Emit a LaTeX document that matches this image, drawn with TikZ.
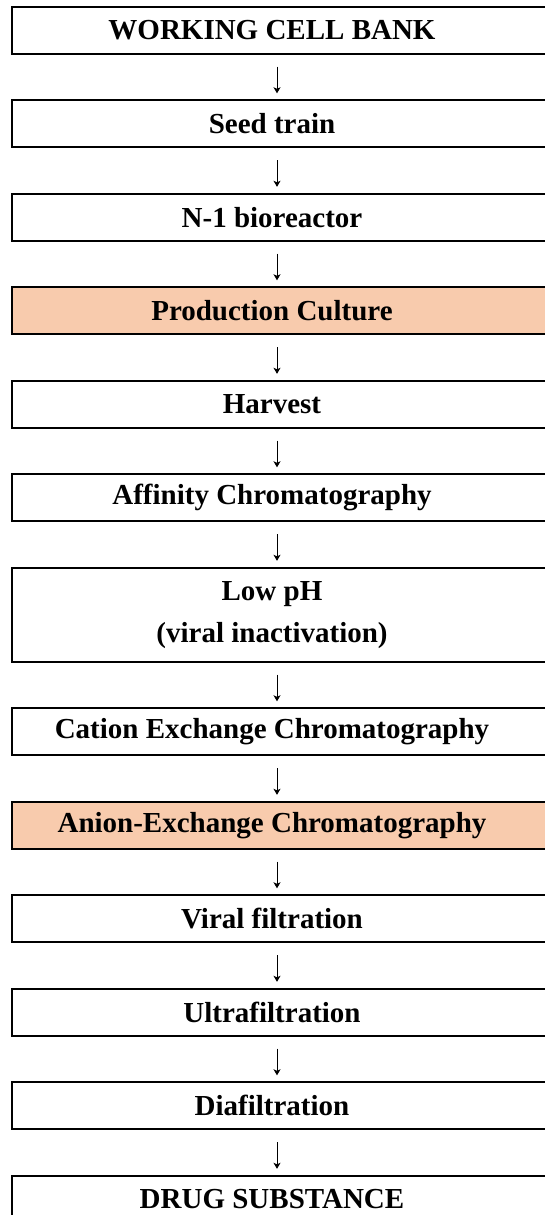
\documentclass[tikz,border=0pt]{standalone}
\usepackage{fontspec}
\setmainfont{Liberation Serif}
\usetikzlibrary{arrows.meta,backgrounds}
\definecolor{peach}{HTML}{F8CBAD}
\tikzset{
  stepbox/.style={minimum width=520pt, minimum height=46.5pt, inner sep=0pt,
    font=\fontsize{29}{42}\selectfont\bfseries, align=center, text=black},
  tallbox/.style={stepbox, minimum height=93.5pt},
  boxline/.style={line width=2.3pt, draw=black},
  flowarrow/.style={line width=1pt, -{Stealth[length=6pt,width=7pt,inset=1.5pt]},
    shorten <=13pt, shorten >=7pt}
}
\begin{document}
\begin{tikzpicture}[x=1pt,y=-1pt]
\useasboundingbox (0,0) rectangle (545,1215);
\node[stepbox] (wcb) at (272,30.25) {WORKING CELL BANK};
\node[stepbox] (seed) at (272,123.75) {Seed train};
\node[stepbox] (n1) at (272,217.25) {N-1 bioreactor};
\node[stepbox] (prod) at (272,310.75) {Production Culture};
\node[stepbox] (harv) at (272,404.25) {Harvest};
\node[stepbox] (aff) at (272,497.75) {Affinity Chromatography};
\node[tallbox] (lowph) at (272,614.75) {Low pH\\(viral inactivation)};
\node[stepbox] (cat) at (272,731.75) {Cation Exchange Chromatography};
\node[stepbox] (anion) at (272,825.25) {Anion-Exchange Chromatography};
\node[stepbox] (vir) at (272,918.75) {Viral filtration};
\node[stepbox] (ultra) at (272,1012.25) {Ultrafiltration};
\node[stepbox] (dia) at (272,1105.75) {Diafiltration};
\node[stepbox] (ds) at (272,1199.25) {DRUG SUBSTANCE};
\begin{scope}[on background layer]
  \foreach \n in {wcb,seed,n1,harv,aff,lowph,cat,vir,ultra,dia,ds}
    \draw[boxline] (\n.north west) rectangle ([xshift=40pt]\n.south east);
  \foreach \n in {prod,anion}
    \draw[boxline, fill=peach] (\n.north west) rectangle ([xshift=40pt]\n.south east);
\end{scope}
\foreach \a/\b in {wcb/seed,seed/n1,n1/prod,prod/harv,harv/aff,aff/lowph,lowph/cat,cat/anion,anion/vir,vir/ultra,ultra/dia,dia/ds}
  \draw[flowarrow] ([xshift=5pt]\a.south) -- ([xshift=5pt]\b.north);
\end{tikzpicture}
\end{document}
